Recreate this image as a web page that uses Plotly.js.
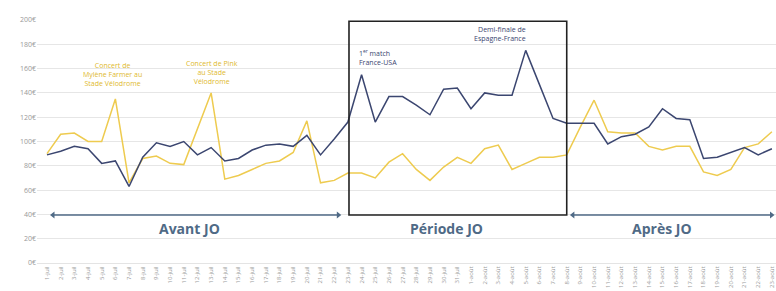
<!DOCTYPE html>
<html><head><meta charset="utf-8">
<script src="https://cdn.plot.ly/plotly-3.0.1.min.js"></script>
<style>html,body{margin:0;padding:0;background:#fff}#chart{width:776px;height:291px}</style>
</head><body><div id="chart"></div>
<script>
// Dates (1 juillet -> 23 août)
const dates = [];
for (let d = 1; d <= 31; d++) dates.push(d + "-juil");
for (let d = 1; d <= 23; d++) dates.push(d + "-août");

const serieBleue = [89,92,96,94,82,84,63,87,99,96,100,89,95,84,86,93,97,98,96,105,89,102,116,155,116,137,137,130,122,143,144,127,140,138,138,175,147,119,115,115,115,98,104,106,112,127,119,118,86,87,91,95,89,94];
const serieJaune = [90,106,107,100,100,135,66,86,88,82,81,110,140,69,72,77,82,84,91,117,66,68,74,74,70,83,90,77,68,79,87,82,94,97,77,82,87,87,89,112,134,108,107,107,96,93,96,96,75,72,77,95,98,108];

const yTicks = [0,20,40,60,80,100,120,140,160,180,200];

// Period arrows (start/end positions on the date index scale, level in €)
const avantArrowX = [0.44, 21.3];
const apresArrowX = [38.45, 52.97];
const arrowLevel = [39.5, 39.5];

const blue = "#3b4670", gold = "#eecb4f", slate = "#4f6a86";
const arrowTrace = (xs) => ({
  x: xs, y: arrowLevel, xaxis: "x2", yaxis: "y", type: "scatter", mode: "lines+markers",
  line: {color: slate, width: 1.3},
  marker: {symbol: ["triangle-left", "triangle-right"], size: 6, color: slate},
  hoverinfo: "skip"
});
const traces = [
  {x: dates, y: serieJaune, type: "scatter", mode: "lines", line: {color: gold, width: 1.5}, hoverinfo: "skip"},
  {x: dates, y: serieBleue, type: "scatter", mode: "lines", line: {color: blue, width: 1.5}, hoverinfo: "skip"},
  arrowTrace(avantArrowX),
  arrowTrace(apresArrowX)
];

const small = {family: "Open Sans, sans-serif", size: 7};
const layout = {
  width: 776, height: 291,
  margin: {l: 37, r: 0, t: 20, b: 28},
  paper_bgcolor: "#fff", plot_bgcolor: "#fff",
  showlegend: false,
  font: {family: "Open Sans, sans-serif", color: "#888"},
  xaxis: {type: "category", range: [-0.73, 53.3], tickangle: -90, tickfont: {size: 6, color: "#999"},
          showgrid: false, zeroline: false, showline: true, linecolor: "#e4e4e4", ticks: ""},
  xaxis2: {type: "linear", range: [-0.73, 53.3], overlaying: "x", visible: false},
  yaxis: {range: [0, 200], tickvals: yTicks, ticktext: yTicks.map(v => v + "€"), tickfont: {size: 7, color: "#999"},
          gridcolor: "#e6e6e6", gridwidth: 1, zeroline: false, showline: false, ticks: ""},
  shapes: [
    {type: "rect", xref: "x", yref: "y", x0: 22.08, x1: 38.0, y0: 39.5, y1: 199, line: {color: "#222", width: 1.6}}
  ],
  annotations: [
    {xref: "x", yref: "y", x: 10.4, y: 28, text: "<b>Avant JO</b>", showarrow: false, font: {family: "Open Sans, sans-serif", size: 14, color: slate}},
    {xref: "x", yref: "y", x: 29.2, y: 28, text: "<b>Période JO</b>", showarrow: false, font: {family: "Open Sans, sans-serif", size: 14, color: slate}},
    {xref: "x", yref: "y", x: 45.0, y: 28, text: "<b>Après JO</b>", showarrow: false, font: {family: "Open Sans, sans-serif", size: 14, color: slate}},
    {xref: "x", yref: "y", x: 22.7, y: 169.5, xanchor: "left", align: "left", showarrow: false,
     text: "1<sup>er</sup> match<br>France-USA", font: Object.assign({}, small, {color: blue})},
    {xref: "x", yref: "y", x: 35.2, y: 188.5, xanchor: "right", align: "right", showarrow: false,
     text: "Demi-finale de<br>Espagne-France", font: Object.assign({}, small, {color: blue})},
    {xref: "x", yref: "y", x: 4.8, y: 155.5, showarrow: false, align: "center",
     text: "Concert de<br>Mylène Farmer au<br>Stade Vélodrome", font: Object.assign({}, small, {color: "#e0b92e"})},
    {xref: "x", yref: "y", x: 12.1, y: 157, showarrow: false, align: "center",
     text: "Concert de Pink<br>au Stade<br>Vélodrome", font: Object.assign({}, small, {color: "#e0b92e"})}
  ]
};
Plotly.newPlot("chart", traces, layout, {staticPlot: true, displayModeBar: false});
</script></body></html>
